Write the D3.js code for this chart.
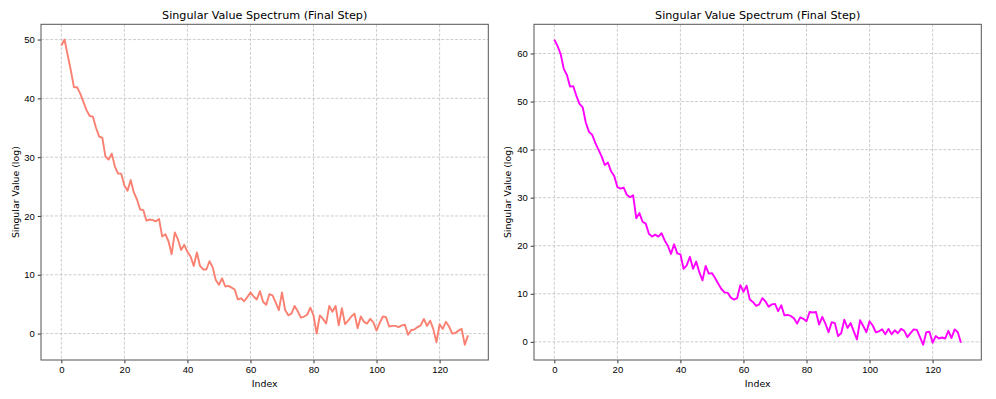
<!DOCTYPE html>
<html lang="en">
<head>
  <meta charset="UTF-8">
  <title>Singular Value Spectrum</title>
  <style>
    body { margin:0; background:#fff; overflow:hidden; }
    svg { display:block; font-family:"DejaVu Sans", sans-serif; }
    .tick text { font-size:9.5px; fill:#000; }
    .tick line { stroke:#000; stroke-width:0.8; }
    .domain { display:none; }
  </style>
</head>
<body>
  <svg id="chart" width="996" height="399"></svg>
  <script src="https://cdn.jsdelivr.net/npm/d3@7/dist/d3.min.js"></script>
  <script>
    // values, index 0..129
    const leftValues = [
      49.0, 50.0, 47.4, 44.8, 41.9, 41.9, 40.8, 39.4, 38.0, 37.0,
      36.9, 35.0, 33.5, 33.3, 30.1, 29.6, 30.6, 28.4, 27.2, 27.2,
      25.2, 24.3, 26.1, 24.0, 22.8, 21.1, 21.0, 19.2, 19.4, 19.3,
      19.1, 19.5, 16.5, 16.9, 15.7, 13.5, 17.2, 16.0, 14.2, 15.1,
      13.9, 13.1, 11.5, 13.8, 11.5, 10.9, 10.9, 12.3, 11.3, 9.1,
      8.3, 9.4, 8.0, 8.1, 7.8, 7.5, 5.8, 6.0, 5.5, 6.2,
      7.0, 6.3, 5.8, 7.2, 5.4, 4.9, 6.7, 6.5, 5.3, 4.0,
      7.0, 4.0, 3.1, 3.4, 4.7, 3.8, 2.7, 2.9, 3.2, 4.4,
      3.1, 0.0, 3.1, 2.5, 1.7, 4.7, 3.7, 4.7, 1.4, 4.3,
      1.6, 2.2, 2.9, 3.4, 0.9, 2.9, 2.0, 1.7, 2.5, 1.9,
      0.5, 1.8, 2.9, 2.8, 1.2, 1.3, 1.3, 1.1, 1.4, 1.5,
      -0.2, 0.6, 0.7, 1.1, 1.4, 2.5, 1.3, 2.2, 0.8, -1.5,
      1.6, 0.8, 2.0, 1.2, 0.0, 0.1, 0.5, 0.8, -1.9, -0.3
    ];
    const rightValues = [
      62.9, 61.6, 59.9, 56.8, 55.5, 53.1, 53.2, 51.2, 49.5, 48.8,
      45.6, 43.7, 43.1, 41.4, 40.0, 38.6, 36.8, 37.3, 35.5, 34.5,
      32.2, 31.9, 32.1, 30.6, 30.1, 30.5, 25.7, 26.8, 25.0, 24.6,
      22.5, 21.9, 22.3, 21.9, 22.6, 21.1, 20.0, 18.3, 20.3, 18.4,
      18.2, 15.2, 15.9, 17.7, 15.2, 16.7, 14.5, 12.8, 15.8, 14.2,
      14.3, 13.3, 12.1, 11.0, 10.3, 10.2, 9.2, 8.8, 9.1, 11.8,
      10.4, 11.7, 8.8, 8.3, 7.5, 7.8, 9.1, 8.4, 7.3, 7.8,
      7.9, 6.4, 7.6, 5.5, 5.6, 5.4, 4.9, 3.8, 5.1, 4.8,
      4.3, 6.2, 6.1, 6.2, 3.6, 5.2, 3.8, 2.0, 4.1, 3.9,
      1.2, 1.8, 4.6, 2.9, 3.9, 2.2, 0.5, 4.5, 3.3, 2.0,
      4.3, 3.4, 2.0, 2.2, 2.6, 1.6, 2.7, 1.6, 2.4, 1.8,
      2.7, 2.3, 1.0, 1.8, 2.6, 2.5, 1.0, -0.6, 2.0, 2.1,
      -0.2, 1.2, 0.7, 0.9, 0.7, 2.3, 0.8, 2.6, 2.0, -0.2
    ];
    const xTicks = [0, 20, 40, 60, 80, 100, 120];
    const leftYTicks = [0, 10, 20, 30, 40, 50];
    const rightYTicks = [0, 10, 20, 30, 40, 50, 60];
    const titleText = 'Singular Value Spectrum (Final Step)';
    const xLabel = 'Index';
    const yLabel = 'Singular Value (log)';

    const svg = d3.select('#chart');
    const plotTop = 24.3, plotBottom = 360;

    function drawPanel(values, color, yTicks, left, right, yLabelX) {
      const g = svg.append('g');
      const n = values.length;
      const xPad = (n - 1) * 0.05;
      const x = d3.scaleLinear().domain([-xPad, n - 1 + xPad]).range([left, right]);
      const [lo, hi] = d3.extent(values);
      const yPad = (hi - lo) * 0.05;
      const y = d3.scaleLinear().domain([lo - yPad, hi + yPad]).range([plotBottom, plotTop]);

      // grid
      const grid = g.append('g').attr('stroke', '#b8b8b8')
        .attr('stroke-width', 0.7).attr('stroke-dasharray', '3,1.6');
      grid.selectAll('line.v').data(xTicks).join('line').attr('class', 'v')
        .attr('x1', d => x(d)).attr('x2', d => x(d)).attr('y1', plotTop).attr('y2', plotBottom);
      grid.selectAll('line.h').data(yTicks).join('line').attr('class', 'h')
        .attr('y1', d => y(d)).attr('y2', d => y(d)).attr('x1', left).attr('x2', right);

      // line
      const line = d3.line().x((d, i) => x(i)).y(d => y(d));
      g.append('path').datum(values)
        .attr('fill', 'none').attr('stroke', color).attr('stroke-width', 1.9)
        .attr('stroke-linejoin', 'round').attr('d', line);

      // axes
      g.append('g').attr('transform', `translate(0,${plotBottom})`)
        .call(d3.axisBottom(x).tickValues(xTicks).tickSize(3.3).tickPadding(3));
      g.append('g').attr('transform', `translate(${left},0)`)
        .call(d3.axisLeft(y).tickValues(yTicks).tickSize(3.3).tickPadding(3));

      // frame
      g.append('rect').attr('x', left).attr('y', plotTop)
        .attr('width', right - left).attr('height', plotBottom - plotTop)
        .attr('fill', 'none').attr('stroke', '#555').attr('stroke-width', 1);

      g.append('text').attr('x', (left + right) / 2).attr('y', 19)
        .attr('text-anchor', 'middle').style('font-size', '11.2px').text(titleText);
      g.append('text').attr('x', (left + right) / 2).attr('y', 386.5)
        .attr('text-anchor', 'middle').style('font-size', '9.4px').text(xLabel);
      g.append('text').attr('transform', `translate(${yLabelX},${(plotTop + plotBottom) / 2}) rotate(-90)`)
        .attr('text-anchor', 'middle').style('font-size', '9.4px').text(yLabel);
    }

    drawPanel(leftValues, '#fa8072', leftYTicks, 41, 488.3, 18.5);
    drawPanel(rightValues, '#ff00ff', rightYTicks, 534, 981.3, 511);
  </script>
</body>
</html>
